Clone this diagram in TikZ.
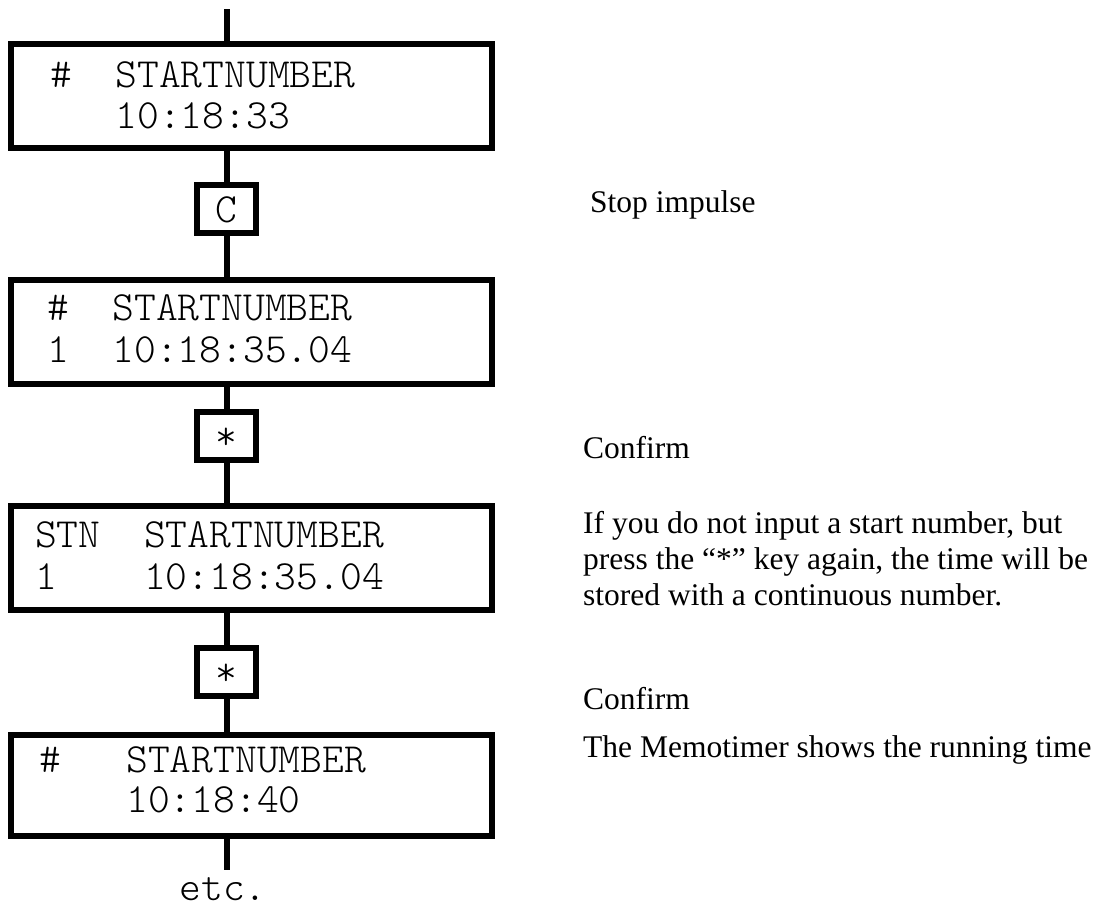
\documentclass[tikz,border=0pt]{standalone}
\usepackage{fontspec}
\setmainfont{Liberation Serif}
\newfontfamily\monofam{lmmonolt10-regular.otf}
% fixed-width gap of n character cells
\newcommand\cells[1]{\hspace*{#1\fontcharwd\font`0}}
\begin{document}
\begin{tikzpicture}[x=1pt,y=-1pt,
  display/.style={draw,line width=6pt,minimum width=481pt,minimum height=104pt,inner sep=0pt},
  keybox/.style={draw,line width=6pt,minimum width=59pt,minimum height=48pt,inner sep=0pt,
                 text height=27pt,text depth=0pt,font=\fontsize{41.5}{45}\monofam},
  screen/.style={anchor=base west,inner sep=0pt,font=\fontsize{41.5}{45}\monofam},
  note/.style={anchor=base west,inner sep=0pt,font=\fontsize{31.5}{37}\selectfont},
  link/.style={line width=6.5pt}]
\useasboundingbox (0,0) rectangle (1097,911);

% display screens
\node[display] (d1) at (251.5,96) {};
\node[display] (d2) at (251.5,332) {};
\node[display] (d3) at (251.5,558) {};
\node[display,minimum height=101pt] (d4) at (251.5,785.5) {};

% display contents
\node[screen] (d1a) at (50,87)  {\#\cells{2}STARTNUMBER};
\node[screen] (d1b) at (50,128) {\cells{3}10:18:33};
\node[screen] (d2a) at (47,320) {\#\cells{2}STARTNUMBER};
\node[screen] (d2b) at (47,362) {1\cells{2}10:18:35.04};
\node[screen] (d3a) at (35,547) {STN\cells{2}STARTNUMBER};
\node[screen] (d3b) at (35,589) {1\cells{4}10:18:35.04};
\node[screen] (d4a) at (39,772) {\#\cells{3}STARTNUMBER};
\node[screen] (d4b) at (39,812) {\cells{4}10:18:40};

% keys
\node[keybox] (k1) at (226,208.5) {C};
\node[keybox] (k2) at (226,435.5) {*};
\node[keybox] (k3) at (226,671.5) {*};

% flow line
\coordinate (top) at (227,9);
\coordinate (end) at (227,870);
\draw[link] (top) -- (top |- d1.north);
\draw[link] (d1.south -| top) -- (k1.north -| top);
\draw[link] (k1.south -| top) -- (d2.north -| top);
\draw[link] (d2.south -| top) -- (k2.north -| top);
\draw[link] (k2.south -| top) -- (d3.north -| top);
\draw[link] (d3.south -| top) -- (k3.north -| top);
\draw[link] (k3.south -| top) -- (d4.north -| top);
\draw[link] (d4.south -| top) -- (end);
\node[anchor=base,inner sep=0pt,font=\fontsize{41.5}{45}\monofam] (etc) at (223,900) {etc.};

% explanations
\node[note] (n1) at (590,212) {Stop impulse};
\node[note] (n2) at (583,458) {Confirm};
\node[note] (n3a) at (583,533) {If you do not input a start number, but};
\node[note] (n3b) at (583,569) {press the “*” key again, the time will be};
\node[note] (n3c) at (583,605) {stored with a continuous number.};
\node[note] (n4) at (583,709) {Confirm};
\node[note] (n5) at (583,757) {The Memotimer shows the running time};
\end{tikzpicture}
\end{document}
